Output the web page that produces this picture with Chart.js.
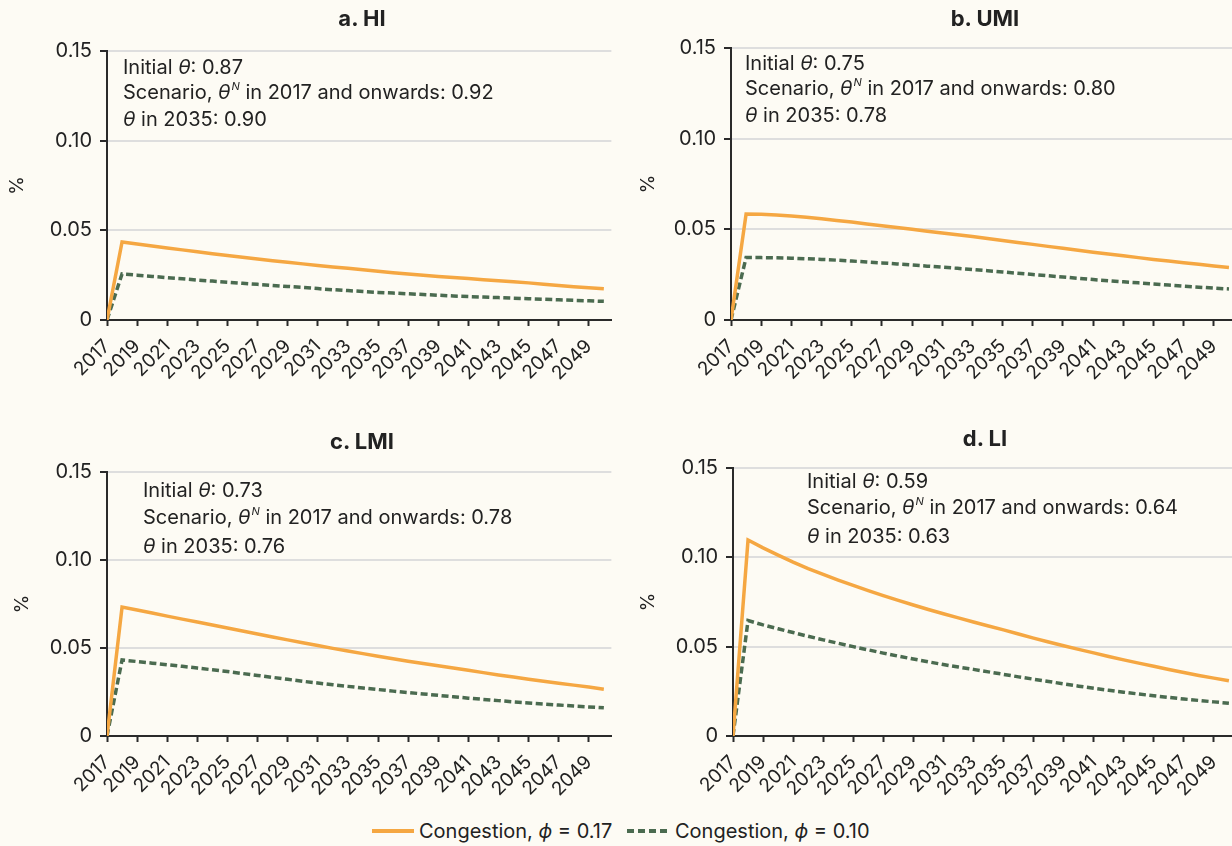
<!DOCTYPE html>
<html>
<head>
<meta charset="utf-8">
<script src="https://cdn.jsdelivr.net/npm/chart.js@4.4.1/dist/chart.umd.min.js"></script>
<style>
  html, body { margin: 0; padding: 0; background: #FDFBF4; }
  body { width: 1232px; height: 846px; overflow: hidden; position: relative;
         font-family: Inter, "Noto Sans", sans-serif; color: #222; }
  canvas { position: absolute; }
  .title { position: absolute; font-weight: 700; font-size: 22px; transform: translate(-50%, -50%); white-space: nowrap; }
  .note { position: absolute; font-size: 20px; line-height: 24.5px; white-space: nowrap; }
  .note i, .lg i { font-style: italic; }
  .sup { font-size: 11px; position: relative; top: -9px; font-style: italic; margin-left: 1px; }
  .lg { position: absolute; font-size: 20px; line-height: 24px; white-space: nowrap; }
  .sw { position: absolute; }
</style>
</head>
<body>
<canvas id="cHI" width="614" height="400" style="left:0;top:0"></canvas>
<canvas id="cUMI" width="619" height="400" style="left:620px;top:0"></canvas>
<canvas id="cLMI" width="614" height="396" style="left:0;top:420px"></canvas>
<canvas id="cLI" width="619" height="396" style="left:620px;top:420px"></canvas>

<div class="title" style="left:362px;top:18px">a. HI</div>
<div class="title" style="left:985px;top:18px">b. UMI</div>
<div class="title" style="left:362px;top:441px">c. LMI</div>
<div class="title" style="left:985px;top:438px">d. LI</div>

<div class="note" style="left:123px;top:55px">Initial <i>θ</i>: 0.87<br>Scenario, <i>θ</i><span class="sup">N</span> in 2017 and onwards: 0.92<br><i>θ</i> in 2035: 0.90</div>
<div class="note" style="left:745px;top:51px">Initial <i>θ</i>: 0.75<br>Scenario, <i>θ</i><span class="sup">N</span> in 2017 and onwards: 0.80<br><i>θ</i> in 2035: 0.78</div>
<div class="note" style="left:143px;top:477px;line-height:26.5px">Initial <i>θ</i>: 0.73<br>Scenario, <i>θ</i><span class="sup">N</span> in 2017 and onwards: 0.78<br><i>θ</i> in 2035: 0.76</div>
<div class="note" style="left:807px;top:468px;line-height:26px">Initial <i>θ</i>: 0.59<br>Scenario, <i>θ</i><span class="sup">N</span> in 2017 and onwards: 0.64<br><i>θ</i> in 2035: 0.63</div>

<svg class="sw" style="left:372px;top:825px" width="42" height="12"><line x1="0" y1="6" x2="42" y2="6" stroke="#F5A742" stroke-width="4"/></svg>
<div class="lg" style="left:419px;top:819px">Congestion, <i>ϕ</i> = 0.17</div>
<svg class="sw" style="left:627px;top:825px" width="42" height="12"><line x1="0" y1="6" x2="42" y2="6" stroke="#4B6B50" stroke-width="4" stroke-dasharray="7 4"/></svg>
<div class="lg" style="left:675px;top:819px">Congestion, <i>ϕ</i> = 0.10</div>

<script>
// Simulation years and axis labelling
const years = [2017, 2018, 2019, 2020, 2021, 2022, 2023, 2024, 2025, 2026, 2027, 2028,
               2029, 2030, 2031, 2032, 2033, 2034, 2035, 2036, 2037, 2038, 2039, 2040,
               2041, 2042, 2043, 2044, 2045, 2046, 2047, 2048, 2049, 2050];
const tickYears = [2017, 2019, 2021, 2023, 2025, 2027, 2029, 2031, 2033, 2035, 2037,
                   2039, 2041, 2043, 2045, 2047, 2049];
const yTickValues = [0, 0.05, 0.10, 0.15];
const yTickLabels = ['0', '0.05', '0.10', '0.15'];

// a. HI
const hiPhi17 = [0, 0.0435, 0.0424, 0.0413, 0.0402, 0.0391, 0.0380, 0.0370, 0.0360, 0.0350,
                 0.0340, 0.0331, 0.0322, 0.0313, 0.0304, 0.0296, 0.0288, 0.0280, 0.0272, 0.0264,
                 0.0257, 0.0250, 0.0243, 0.0237, 0.0231, 0.0225, 0.0219, 0.0213, 0.0207, 0.0200,
                 0.0193, 0.0186, 0.0180, 0.0174];
const hiPhi10 = [0, 0.0257, 0.0250, 0.0243, 0.0236, 0.0230, 0.0223, 0.0217, 0.0211, 0.0205,
                 0.0199, 0.0193, 0.0187, 0.0182, 0.0175, 0.0169, 0.0164, 0.0159, 0.0154, 0.0150,
                 0.0146, 0.0142, 0.0138, 0.0134, 0.0131, 0.0128, 0.0125, 0.0122, 0.0119, 0.0116,
                 0.0113, 0.0110, 0.0107, 0.0104];
// b. UMI
const umiPhi17 = [0, 0.0585, 0.0583, 0.0579, 0.0573, 0.0566, 0.0558, 0.0549, 0.0540, 0.0530,
                  0.0520, 0.0510, 0.0500, 0.0490, 0.0480, 0.0470, 0.0460, 0.0449, 0.0438, 0.0427,
                  0.0417, 0.0406, 0.0396, 0.0385, 0.0374, 0.0364, 0.0354, 0.0344, 0.0334, 0.0325,
                  0.0316, 0.0307, 0.0298, 0.0290];
const umiPhi10 = [0, 0.0344, 0.0344, 0.0343, 0.0341, 0.0338, 0.0334, 0.0330, 0.0325, 0.0320,
                  0.0315, 0.0309, 0.0303, 0.0297, 0.0291, 0.0285, 0.0278, 0.0272, 0.0265, 0.0258,
                  0.0251, 0.0244, 0.0237, 0.0230, 0.0223, 0.0217, 0.0211, 0.0205, 0.0199, 0.0193,
                  0.0187, 0.0181, 0.0176, 0.0171];
// c. LMI
const lmiPhi17 = [0, 0.0733, 0.0716, 0.0699, 0.0681, 0.0664, 0.0648, 0.0631, 0.0614, 0.0597,
                  0.0580, 0.0563, 0.0546, 0.0530, 0.0514, 0.0498, 0.0483, 0.0468, 0.0453, 0.0439,
                  0.0425, 0.0412, 0.0399, 0.0386, 0.0373, 0.0360, 0.0347, 0.0335, 0.0323, 0.0311,
                  0.0300, 0.0289, 0.0278, 0.0266];
const lmiPhi10 = [0, 0.0432, 0.0423, 0.0414, 0.0405, 0.0396, 0.0386, 0.0376, 0.0366, 0.0355,
                  0.0344, 0.0333, 0.0322, 0.0311, 0.0301, 0.0291, 0.0282, 0.0273, 0.0264, 0.0255,
                  0.0247, 0.0239, 0.0231, 0.0223, 0.0215, 0.0208, 0.0201, 0.0194, 0.0188, 0.0182,
                  0.0176, 0.0170, 0.0165, 0.0160];
// d. LI
const liPhi17 = [0, 0.1097, 0.1053, 0.1012, 0.0973, 0.0937, 0.0904, 0.0873, 0.0843, 0.0814,
                 0.0786, 0.0759, 0.0733, 0.0708, 0.0684, 0.0661, 0.0638, 0.0616, 0.0594, 0.0571,
                 0.0548, 0.0526, 0.0505, 0.0485, 0.0465, 0.0445, 0.0426, 0.0408, 0.0390, 0.0372,
                 0.0355, 0.0339, 0.0324, 0.0309];
const liPhi10 = [0, 0.0646, 0.0622, 0.0600, 0.0579, 0.0558, 0.0538, 0.0519, 0.0500, 0.0482,
                 0.0464, 0.0447, 0.0431, 0.0415, 0.0400, 0.0386, 0.0373, 0.0359, 0.0345, 0.0331,
                 0.0318, 0.0305, 0.0292, 0.0279, 0.0267, 0.0256, 0.0245, 0.0235, 0.0225, 0.0216,
                 0.0207, 0.0199, 0.0191, 0.0183];

const ORANGE = '#F5A742';
const GREEN = '#4B6B50';
const AXIS = '#2A2A2A';
const GRID = '#DEDEDE';
const FONT = 'Inter, "Noto Sans", sans-serif';

function points(values) {
  return years.map((yr, i) => ({ x: yr, y: values[i] }));
}

function buildPanel(id, phi17, phi10, geo) {
  return new Chart(document.getElementById(id), {
    type: 'line',
    data: {
      datasets: [
        { label: 'Congestion, ϕ = 0.17', data: points(phi17), borderColor: ORANGE,
          borderWidth: 3.5, pointRadius: 0, tension: 0, borderCapStyle: 'butt' },
        { label: 'Congestion, ϕ = 0.10', data: points(phi10), borderColor: GREEN,
          borderWidth: 3.5, borderDash: [7, 3.5], pointRadius: 0, tension: 0 }
      ]
    },
    options: {
      responsive: false,
      animation: false,
      devicePixelRatio: 1,
      layout: { padding: { top: geo.padTop, left: 0, right: geo.padRight, bottom: 0 } },
      plugins: { legend: { display: false }, tooltip: { enabled: false } },
      scales: {
        x: {
          type: 'linear', min: 2017, max: 2050.5,
          afterBuildTicks: s => { s.ticks = tickYears.map(v => ({ value: v })); },
          afterFit: s => { s.height = geo.xAxisH; },
          border: { color: AXIS, width: 2 },
          grid: { drawOnChartArea: false, drawTicks: true, tickLength: 6, tickColor: AXIS, tickWidth: 2 },
          ticks: { autoSkip: false, minRotation: 45, maxRotation: 45, padding: 9, color: '#222',
                   font: { family: FONT, size: 19 }, callback: v => String(v) }
        },
        y: {
          min: 0, max: 0.15,
          afterBuildTicks: s => { s.ticks = yTickValues.map(v => ({ value: v })); },
          afterFit: s => { s.width = geo.axisW; },
          border: { color: AXIS, width: 2 },
          grid: { color: c => (c.tick && c.tick.value === 0) ? 'rgba(0,0,0,0)' : GRID,
                  lineWidth: 2, tickColor: AXIS, tickLength: 7, tickWidth: 2 },
          ticks: { padding: 8, color: '#222', font: { family: FONT, size: 20 },
                   callback: (v, i) => yTickLabels[i] },
          title: { display: true, text: '%', color: '#222', font: { family: FONT, size: 19 },
                   padding: { top: geo.titlePad, bottom: 0 } }
        }
      }
    }
  });
}

buildPanel('cHI', hiPhi17, hiPhi10, { padTop: 51, padRight: 2, axisW: 107, xAxisH: 80, titlePad: 6 });
buildPanel('cUMI', umiPhi17, umiPhi10, { padTop: 48, padRight: 0, axisW: 111, xAxisH: 80, titlePad: 17 });
buildPanel('cLMI', lmiPhi17, lmiPhi10, { padTop: 52, padRight: 2, axisW: 107, xAxisH: 80, titlePad: 11 });
buildPanel('cLI', liPhi17, liPhi10, { padTop: 48, padRight: 0, axisW: 113, xAxisH: 80, titlePad: 17 });
</script>
</body>
</html>
